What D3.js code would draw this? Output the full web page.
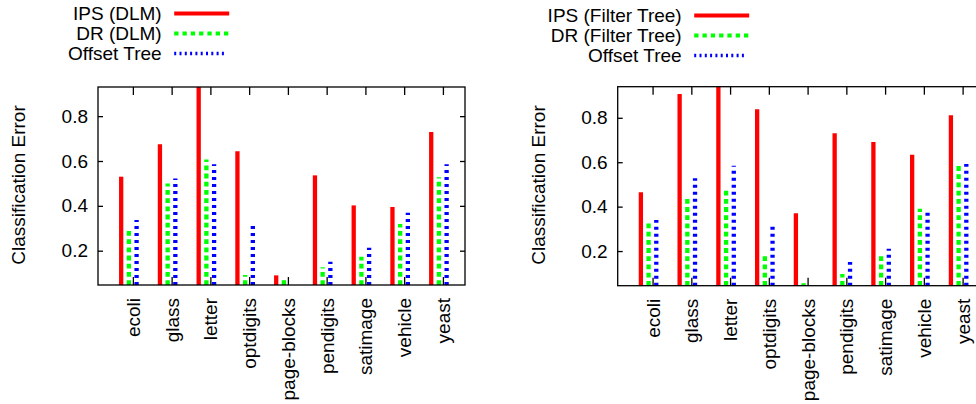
<!DOCTYPE html>
<html>
<head>
<meta charset="utf-8">
<script src="https://cdn.jsdelivr.net/npm/d3@7"></script>
<style>
  body { margin: 0; background: #fff; }
  svg { display: block; }
  text { font-family: "Liberation Sans", Arial, sans-serif; font-size: 19px; fill: #000; }
</style>
</head>
<body>
<div id="chart"></div>
<script>
// data
const categories = ["ecoli", "glass", "letter", "optdigits", "page-blocks", "pendigits", "satimage", "vehicle", "yeast"];
const ipsDlm = [0.530, 0.675, 0.95, 0.644, 0.090, 0.536, 0.402, 0.395, 0.729];
const drDlm = [0.289, 0.500, 0.607, 0.092, 0.082, 0.126, 0.173, 0.319, 0.527];
const offsetDlm = [0.337, 0.522, 0.585, 0.328, 0.03, 0.151, 0.213, 0.369, 0.585];
const ipsFt = [0.465, 0.907, 0.95, 0.839, 0.370, 0.730, 0.691, 0.634, 0.811];
const drFt = [0.328, 0.448, 0.472, 0.180, 0.055, 0.097, 0.186, 0.390, 0.592];
const offsetFt = [0.340, 0.528, 0.584, 0.310, 0.03, 0.151, 0.210, 0.373, 0.592];
const yTicks = [0.2, 0.4, 0.6, 0.8];

const svg = d3.select("#chart").append("svg")
    .attr("width", 976)
    .attr("height", 404);

// bar styles, same for both panels
const styles = [
    { color: "#ff0000", dash: null, legendDash: null, off: -11.7 },
    { color: "#00ff00", dash: "4.8,3.4", legendDash: "4.3,4", off: -4 },
    { color: "#0000ff", dash: "3,4", legendDash: "2,3.3", off: 3.7 }
];

function drawPanel(p) {
    const g = svg.append("g");

    const x = d3.scaleLinear().domain([-0.9, 8.57]).range([p.left, p.left + 367]);
    const y = d3.scaleLinear().domain(p.ydom).range([p.bottom, p.top]);
    const x0 = x.range()[0], x1 = x.range()[1];

    const clipId = "clip" + p.id;
    g.append("clipPath").attr("id", clipId)
        .append("rect")
        .attr("x", x0).attr("y", p.top)
        .attr("width", x1 - x0).attr("height", p.bottom - p.top);

    const bars = g.append("g").attr("clip-path", `url(#${clipId})`);
    p.series.forEach((vals, s) => {
        bars.selectAll(null)
            .data(vals.map((v, i) => ({ v, i })).filter(d => d.v > p.ydom[0]))
            .enter().append("line")
            .attr("x1", d => x(d.i) + styles[s].off)
            .attr("x2", d => x(d.i) + styles[s].off)
            .attr("y1", y(p.ydom[0]))
            .attr("y2", d => y(d.v))
            .attr("stroke", styles[s].color)
            .attr("stroke-width", 4.3)
            .attr("stroke-dasharray", styles[s].dash);
    });

    // y axis, ticks inward on both sides
    const yAxis = g.append("g")
        .attr("transform", `translate(${x0},0)`)
        .call(d3.axisLeft(y).tickValues(yTicks).tickFormat(d3.format(".1f"))
            .tickSizeInner(-5).tickSizeOuter(0).tickPadding(10));
    yAxis.select(".domain").remove();
    yAxis.selectAll("text").attr("font-size", 19).attr("font-family", null);

    g.append("g")
        .attr("transform", `translate(${x1},0)`)
        .call(d3.axisRight(y).tickValues(yTicks).tickFormat("")
            .tickSizeInner(-5).tickSizeOuter(0))
        .select(".domain").remove();

    // x axis: bottom with labels, top mirror ticks
    const idx = d3.range(categories.length);
    const xAxis = g.append("g")
        .attr("transform", `translate(0,${p.bottom})`)
        .call(d3.axisBottom(x).tickValues(idx).tickFormat(i => categories[i])
            .tickSizeInner(-8).tickSizeOuter(0));
    xAxis.select(".domain").remove();
    xAxis.selectAll("text")
        .attr("font-size", 19).attr("font-family", null)
        .attr("transform", "rotate(-90)")
        .attr("text-anchor", "end")
        .attr("x", -13).attr("y", 6.5).attr("dy", 0);

    g.append("g")
        .attr("transform", `translate(0,${p.top})`)
        .call(d3.axisTop(x).tickValues(idx).tickFormat("")
            .tickSizeInner(-8).tickSizeOuter(0))
        .select(".domain").remove();

    g.selectAll(".tick line").attr("stroke", "#000").attr("stroke-width", 1.3);

    g.append("rect")
        .attr("x", x0).attr("y", p.top)
        .attr("width", x1 - x0).attr("height", p.bottom - p.top)
        .attr("fill", "none").attr("stroke", "#000").attr("stroke-width", 1.3);

    g.append("text")
        .attr("transform", `translate(${p.ylabX},185) rotate(-90)`)
        .attr("text-anchor", "middle")
        .text("Classification Error");

    // legend
    p.legend.forEach((name, s) => {
        const ty = p.legTop + s * 20;
        g.append("text")
            .attr("x", p.legX)
            .attr("y", ty + 6)
            .attr("text-anchor", "end")
            .text(name);
        g.append("line")
            .attr("x1", p.legX + 12.5)
            .attr("x2", p.legX + (s == 2 ? 65 : 67.5))
            .attr("y1", ty).attr("y2", ty)
            .attr("stroke", styles[s].color)
            .attr("stroke-width", s == 2 ? 3.6 : 4.2)
            .attr("stroke-dasharray", styles[s].legendDash);
    });
}

drawPanel({
    id: "a", left: 98, top: 87, bottom: 285, ydom: [0.047, 0.93], ylabX: 25,
    series: [ipsDlm, drDlm, offsetDlm],
    legend: ["IPS (DLM)", "DR (DLM)", "Offset Tree"],
    legX: 161.7, legTop: 13.5
});

drawPanel({
    id: "b", left: 617.7, top: 86.7, bottom: 285.7, ydom: [0.044, 0.94], ylabX: 545,
    series: [ipsFt, drFt, offsetFt],
    legend: ["IPS (Filter Tree)", "DR (Filter Tree)", "Offset Tree"],
    legX: 681.7, legTop: 15.5
});
</script>
</body>
</html>
